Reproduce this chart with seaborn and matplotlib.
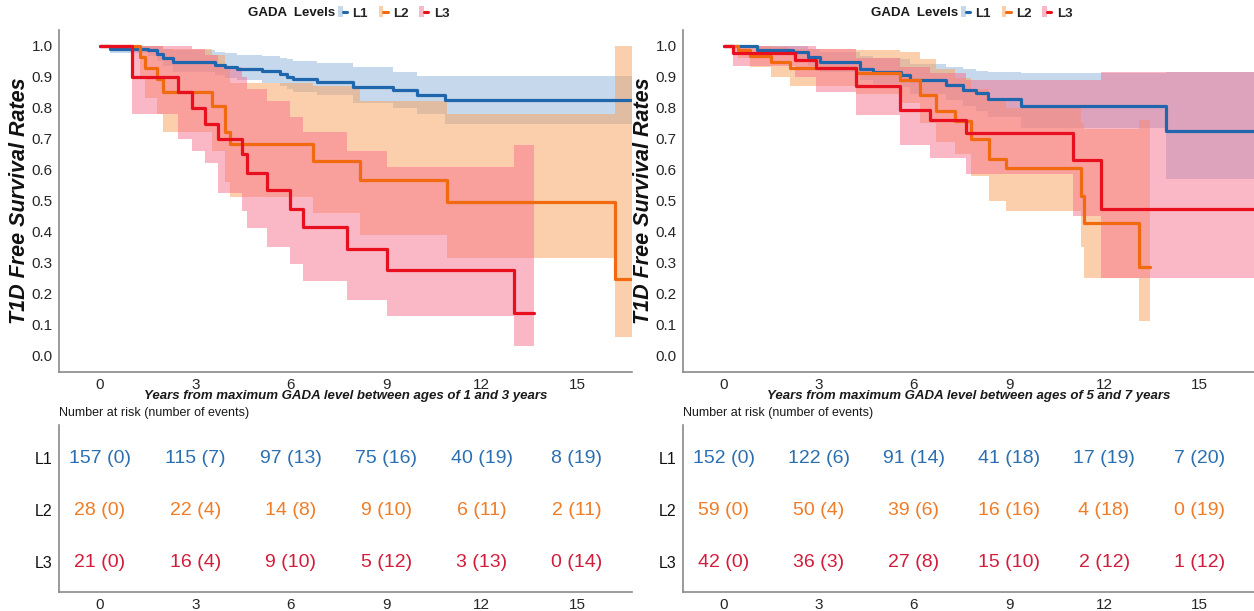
import matplotlib
matplotlib.use("Agg")
import matplotlib.pyplot as plt
from matplotlib.patches import Patch
from matplotlib.lines import Line2D
from matplotlib.legend_handler import HandlerTuple
import pandas as pd
import seaborn as sns

sns.set_theme(style="white")
plt.rcParams["font.family"] = ["Liberation Sans", "DejaVu Sans"]

levels = ["L1", "L2", "L3"]
line_colors = {"L1": "#1f66ad", "L2": "#f26a10", "L3": "#e8101e"}
band_colors = {"L1": "#8fb3da", "L2": "#fba15a", "L3": "#f7708d"}
text_colors = {"L1": "#2c6fb0", "L2": "#f07c26", "L3": "#d31c3c"}
risk_times = [0, 3, 6, 9, 12, 15]

# ---- panel A: max GADA between ages 1 and 3 ----
a_l1_t = [0, 0.31, 1.52, 1.78, 1.99, 2.30, 3.62, 3.93, 4.30, 5.08, 5.66, 5.87, 6.08, 6.81, 7.97, 9.22, 9.96, 10.85, 16.72]
a_l1_s = [1.0, 0.99, 0.984, 0.973, 0.961, 0.948, 0.938, 0.93, 0.925, 0.917, 0.909, 0.90, 0.892, 0.882, 0.866, 0.855, 0.839, 0.823, 0.823]
a_l1_lo = [1.0, 0.975, 0.965, 0.95, 0.935, 0.915, 0.905, 0.895, 0.89, 0.88, 0.87, 0.86, 0.85, 0.84, 0.815, 0.80, 0.78, 0.747, 0.747]
a_l1_hi = [1.0, 1.0, 1.0, 0.998, 0.99, 0.985, 0.98, 0.975, 0.97, 0.965, 0.96, 0.955, 0.95, 0.945, 0.93, 0.916, 0.903, 0.903, 0.903]

a_l2_t = [0, 1.26, 1.42, 1.78, 1.99, 3.51, 3.93, 4.09, 6.71, 8.18, 10.90, 16.20, 16.72]
a_l2_s = [1.0, 0.964, 0.929, 0.893, 0.849, 0.806, 0.72, 0.683, 0.626, 0.565, 0.495, 0.248, 0.248]
a_l2_lo = [1.0, 0.90, 0.83, 0.78, 0.72, 0.66, 0.56, 0.51, 0.46, 0.39, 0.315, 0.06, 0.06]
a_l2_hi = [1.0, 1.0, 1.0, 1.0, 0.99, 0.97, 0.92, 0.88, 0.87, 0.82, 0.78, 1.0, 1.0]

a_l3_t = [0, 1.0, 2.46, 2.88, 3.30, 3.72, 4.45, 4.61, 5.24, 5.96, 6.38, 7.78, 9.04, 13.01, 13.65]
a_l3_s = [1.0, 0.898, 0.849, 0.80, 0.748, 0.70, 0.65, 0.59, 0.533, 0.474, 0.415, 0.345, 0.275, 0.138, 0.138]
a_l3_lo = [1.0, 0.78, 0.70, 0.66, 0.62, 0.524, 0.465, 0.41, 0.35, 0.295, 0.24, 0.18, 0.128, 0.03, 0.03]
a_l3_hi = [1.0, 1.0, 1.0, 0.99, 0.97, 0.93, 0.90, 0.86, 0.82, 0.77, 0.72, 0.66, 0.607, 0.68, 0.68]

a_risk_l1 = ["157 (0)", "115 (7)", "97 (13)", "75 (16)", "40 (19)", "8 (19)"]
a_risk_l2 = ["28 (0)", "22 (4)", "14 (8)", "9 (10)", "6 (11)", "2 (11)"]
a_risk_l3 = ["21 (0)", "16 (4)", "9 (10)", "5 (12)", "3 (13)", "0 (14)"]
a_xlabel = "Years from maximum GADA level between ages of 1 and 3 years"

# ---- panel B: max GADA between ages 5 and 7 ----
b_l1_t = [0, 1.03, 2.19, 2.66, 3.03, 4.29, 4.71, 5.60, 5.87, 7.02, 7.55, 7.97, 8.33, 9.38, 13.96, 16.72]
b_l1_s = [1.0, 0.987, 0.978, 0.963, 0.946, 0.923, 0.914, 0.906, 0.888, 0.874, 0.858, 0.846, 0.828, 0.805, 0.723, 0.723]
b_l1_lo = [1.0, 0.97, 0.955, 0.935, 0.915, 0.89, 0.875, 0.865, 0.845, 0.825, 0.805, 0.79, 0.77, 0.735, 0.57, 0.57]
b_l1_hi = [1.0, 1.0, 0.998, 0.99, 0.98, 0.965, 0.96, 0.955, 0.94, 0.93, 0.925, 0.918, 0.915, 0.91, 0.915, 0.915]

b_l2_t = [0, 0.45, 0.82, 1.50, 2.08, 4.18, 5.55, 6.18, 6.70, 7.28, 7.80, 8.38, 8.90, 11.26, 11.38, 13.11, 13.46]
b_l2_s = [1.0, 0.987, 0.965, 0.946, 0.928, 0.91, 0.89, 0.84, 0.79, 0.757, 0.699, 0.634, 0.604, 0.516, 0.429, 0.287, 0.287]
b_l2_lo = [1.0, 0.96, 0.93, 0.90, 0.87, 0.845, 0.815, 0.75, 0.69, 0.65, 0.58, 0.50, 0.465, 0.35, 0.25, 0.11, 0.11]
b_l2_hi = [1.0, 1.0, 1.0, 0.995, 0.99, 0.985, 0.978, 0.955, 0.925, 0.895, 0.86, 0.83, 0.80, 0.75, 0.73, 0.76, 0.76]

b_l3_t = [0, 0.30, 2.24, 2.92, 4.18, 5.55, 6.49, 7.65, 11.01, 11.89, 16.72]
b_l3_s = [1.0, 0.976, 0.952, 0.926, 0.869, 0.793, 0.761, 0.718, 0.631, 0.473, 0.473]
b_l3_lo = [1.0, 0.935, 0.90, 0.85, 0.776, 0.68, 0.637, 0.585, 0.45, 0.25, 0.25]
b_l3_hi = [1.0, 1.0, 1.0, 0.99, 0.96, 0.93, 0.91, 0.89, 0.89, 0.914, 0.914]

b_risk_l1 = ["152 (0)", "122 (6)", "91 (14)", "41 (18)", "17 (19)", "7 (20)"]
b_risk_l2 = ["59 (0)", "50 (4)", "39 (6)", "16 (16)", "4 (18)", "0 (19)"]
b_risk_l3 = ["42 (0)", "36 (3)", "27 (8)", "15 (10)", "2 (12)", "1 (12)"]
b_xlabel = "Years from maximum GADA level between ages of 5 and 7 years"

XLIM = (-1.29, 16.73)
GREY = "#8a8a8a"

W, H = 1254, 611
fig = plt.figure(figsize=(W / 100, H / 100), dpi=100)


def px_axes(left, top, right, bottom):
    return fig.add_axes([left / W, 1 - bottom / H, (right - left) / W, (bottom - top) / H])


def style_spines(ax):
    sns.despine(ax=ax)
    for side in ["left", "bottom"]:
        ax.spines[side].set_color(GREY)
        ax.spines[side].set_linewidth(1.2)
    ax.tick_params(axis="both", labelsize=11, length=2.5, width=0.8, color=GREY,
                   labelcolor="#262626", pad=2)


def draw_curves(ax, curves, xlabel):
    for lvl, (t, s, lo, hi) in zip(levels, curves):
        ax.fill_between(t, lo, hi, step="post", color=band_colors[lvl], alpha=0.5, lw=0)
        df = pd.DataFrame({"years": t, "surv": s})
        sns.lineplot(data=df, x="years", y="surv", ax=ax, color=line_colors[lvl], lw=2.3,
                     drawstyle="steps-post", estimator=None, sort=False, legend=False)
    ax.set_xlim(*XLIM)
    ax.set_ylim(-0.053, 1.05)
    ax.set_xticks(risk_times)
    ax.set_yticks([i / 10 for i in range(11)])
    ax.set_yticklabels([f"{i / 10:.1f}" for i in range(11)])
    style_spines(ax)
    ax.set_xlabel(xlabel, fontsize=9.5, fontweight="bold", fontstyle="italic", color="#1a1a1a")
    ax.xaxis.set_label_coords(0.5, -0.052)
    ax.set_ylabel("T1D Free Survival Rates", fontsize=15.5, fontweight="bold",
                  fontstyle="italic", color="#111111")
    ax.yaxis.set_label_coords(-0.05, 0.5)


def draw_table(ax, rows):
    for yi, (lvl, vals) in enumerate(zip(levels, rows)):
        for x, v in zip(risk_times, vals):
            ax.text(x, 2 - yi, v, ha="center", va="center", fontsize=14, color=text_colors[lvl])
    ax.set_xlim(*XLIM)
    ax.set_ylim(-0.577, 2.635)
    ax.set_xticks(risk_times)
    ax.set_yticks([2, 1, 0])
    ax.set_yticklabels(levels)
    style_spines(ax)
    ax.tick_params(axis="y", labelcolor="#111111", labelsize=11.5)


def draw_legend(x_right, y):
    fig.text(x_right / W, 1 - y / H, "GADA  Levels", ha="right", va="center",
             fontsize=9.5, fontweight="bold", color="#1a1a1a")
    handles = [(Patch(facecolor=band_colors[l], alpha=0.5, lw=0),
                Line2D([], [], color=line_colors[l], lw=2.2)) for l in levels]
    fig.legend(handles, levels, loc="center left", bbox_to_anchor=((x_right + 3) / W, 1 - y / H),
               bbox_transform=fig.transFigure, ncol=3, frameon=False, borderpad=0,
               borderaxespad=0, handlelength=0.7, handleheight=0.9, handletextpad=0.4,
               columnspacing=0.8, handler_map={tuple: HandlerTuple(ndivide=None)},
               prop={"size": 9.5, "weight": "bold"})


panels = [
    (59, 632, [(a_l1_t, a_l1_s, a_l1_lo, a_l1_hi), (a_l2_t, a_l2_s, a_l2_lo, a_l2_hi),
               (a_l3_t, a_l3_s, a_l3_lo, a_l3_hi)], [a_risk_l1, a_risk_l2, a_risk_l3], a_xlabel, 335),
    (683, 1254, [(b_l1_t, b_l1_s, b_l1_lo, b_l1_hi), (b_l2_t, b_l2_s, b_l2_lo, b_l2_hi),
                 (b_l3_t, b_l3_s, b_l3_lo, b_l3_hi)], [b_risk_l1, b_risk_l2, b_risk_l3], b_xlabel, 958),
]

for left, right, curves, risk, xlabel, leg_x in panels:
    ax = px_axes(left, 30, right, 372)
    draw_curves(ax, curves, xlabel)
    tab = px_axes(left, 425, right, 592)
    draw_table(tab, risk)
    fig.text(left / W, 1 - 413 / H, "Number at risk (number of events)", ha="left", va="center",
             fontsize=9, color="#1a1a1a")
    draw_legend(leg_x, 13)

fig.savefig("out.png", dpi=100)
